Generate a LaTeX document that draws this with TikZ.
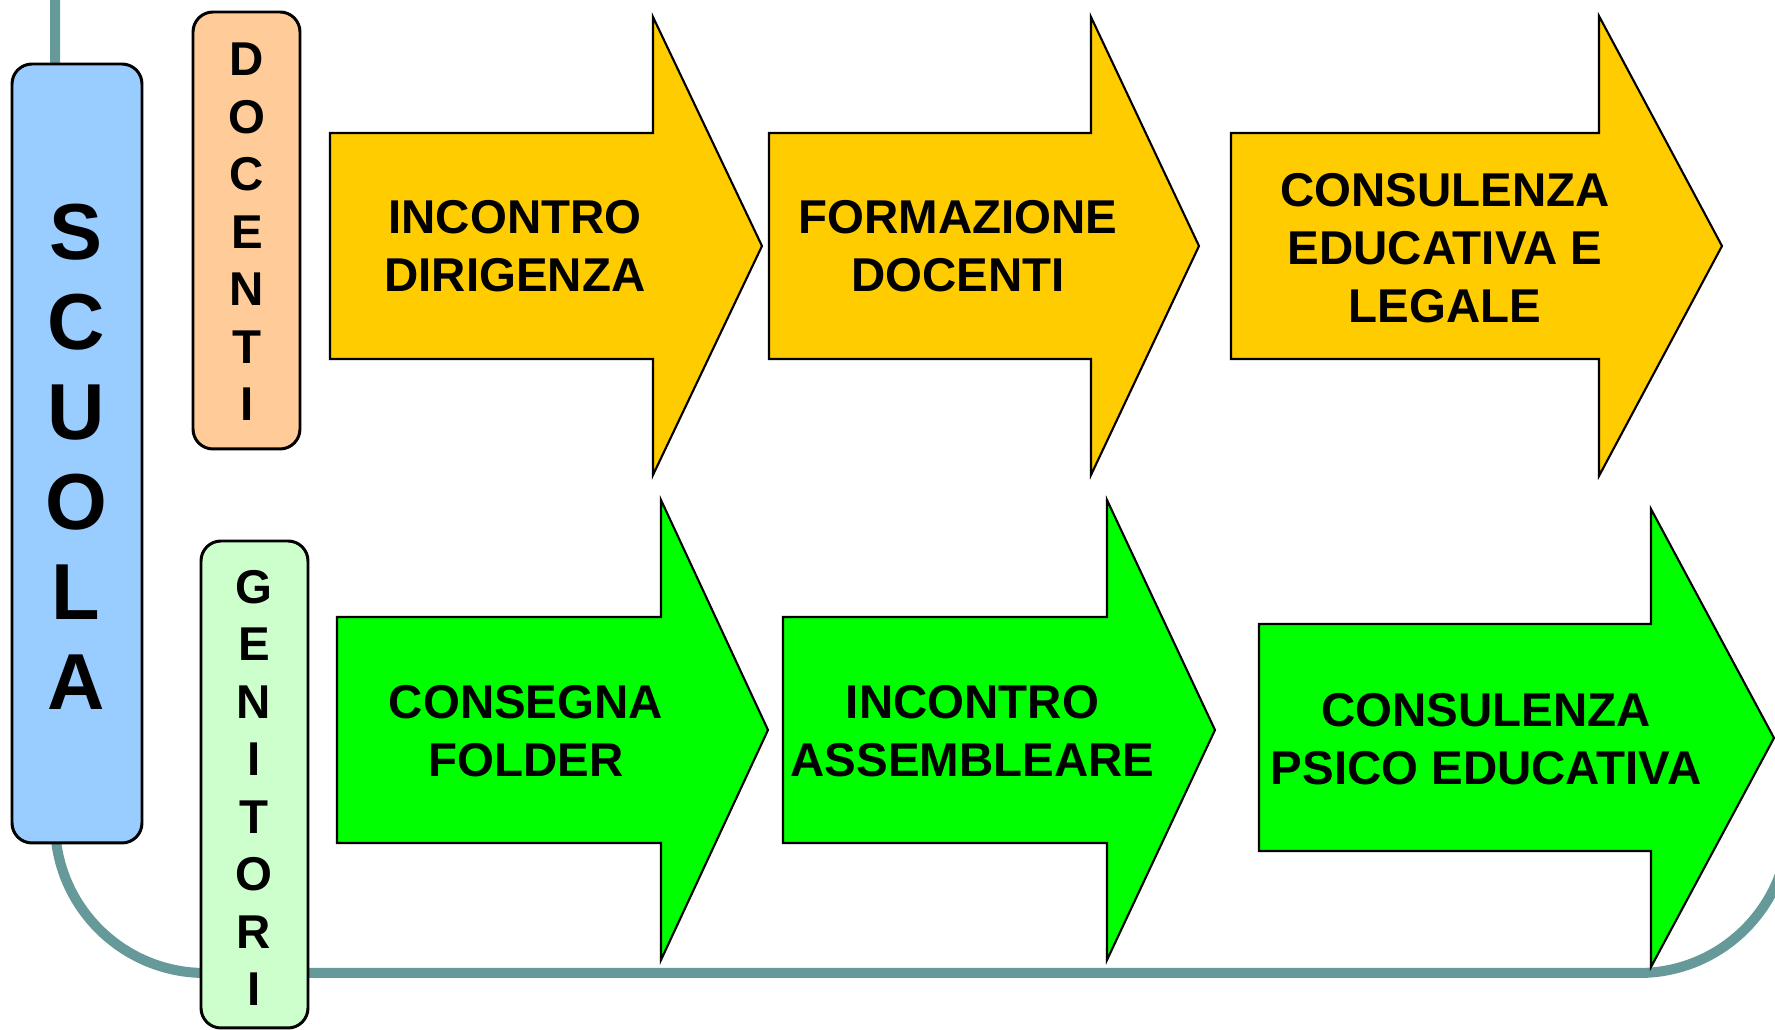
\documentclass[tikz,border=0pt]{standalone}
\usepackage{fontspec}
\setmainfont{Liberation Sans}
\definecolor{spinecol}{HTML}{669999}
\definecolor{scuolablue}{HTML}{99CCFF}
\definecolor{docorange}{HTML}{FFCC99}
\definecolor{genigreen}{HTML}{CCFFCC}
\definecolor{arryellow}{HTML}{FFCC00}
\definecolor{arrgreen}{HTML}{00FF00}
\begin{document}
\begin{tikzpicture}[x=0.1mm,y=-0.1mm,
  spine/.style={draw=spinecol, line width=1mm, rounded corners=15mm},
  sidebox/.style={draw=black, line width=0.85pt, rounded corners=2mm, inner sep=0pt},
  arrowshape/.style={draw=black, line width=0.6pt, line join=miter},
  lbl/.style={font=\bfseries\fontsize{13.5}{16.45}\selectfont, align=center, inner sep=0pt, text=black},
  vlet/.style={font=\bfseries\fontsize{13.5}{16.45}\selectfont, inner sep=0pt, text height=9.67pt, text depth=0pt},
  blet/.style={font=\bfseries\fontsize{22.6}{27}\selectfont, inner sep=0pt, text height=16.18pt, text depth=0pt}]
\useasboundingbox (0,0) rectangle (1775,1030);
% background spine
\coordinate (spinestart) at (55,-20);
\coordinate (spinecornerL) at (55,973);
\coordinate (spinecornerR) at (1789,973);
\coordinate (spineend) at (1789,500);
\begin{scope}
\clip (0,0) rectangle (1775,1030);
\draw[spine] (spinestart) -- (spinecornerL) -- (spinecornerR) -- (spineend);
\end{scope}
% side boxes
\node[sidebox, fill=scuolablue, minimum width=13mm, minimum height=77.9mm] (scuola) at (77,453.5) {};
\node[sidebox, fill=docorange, minimum width=10.7mm, minimum height=43.7mm] (docenti) at (246.5,230.5) {};
\node[sidebox, fill=genigreen, minimum width=10.7mm, minimum height=48.7mm] (genitori) at (254.5,784.5) {};
% vertical letters
\foreach \l [count=\i] in {S,C,U,O,L,A}
  \node[blet] (sc\i) at (76,{231+90*(\i-1)}) {\l};
\foreach \l [count=\i] in {D,O,C,E,N,T,I}
  \node[vlet] (dc\i) at (247,{59+57.5*(\i-1)}) {\l};
\foreach \l [count=\i] in {G,E,N,I,T,O,R,I}
  \node[vlet] (gn\i) at (254,{586.5+57.5*(\i-1)}) {\l};
% yellow arrows
\draw[arrowshape, fill=arryellow] (330,133) -- (653,133) -- (653,17) -- (762,246) -- (653,475) -- (653,359) -- (330,359) -- cycle;
\draw[arrowshape, fill=arryellow] (769,133) -- (1091,133) -- (1091,17) -- (1199,246) -- (1091,475) -- (1091,359) -- (769,359) -- cycle;
\draw[arrowshape, fill=arryellow] (1231,133) -- (1599,133) -- (1599,16) -- (1722,246) -- (1599,476) -- (1599,359) -- (1231,359) -- cycle;
% green arrows
\draw[arrowshape, fill=arrgreen] (337,617) -- (661,617) -- (661,500) -- (768,730) -- (661,960) -- (661,843) -- (337,843) -- cycle;
\draw[arrowshape, fill=arrgreen] (783,617) -- (1107,617) -- (1107,500) -- (1215,730) -- (1107,960) -- (1107,843) -- (783,843) -- cycle;
\draw[arrowshape, fill=arrgreen] (1259,624) -- (1651,624) -- (1651,509) -- (1774,738) -- (1651,967) -- (1651,851) -- (1259,851) -- cycle;
% labels
\node[lbl] (a1) at (515,246.5) {INCONTRO\\DIRIGENZA};
\node[lbl] (a2) at (958,246.5) {FORMAZIONE\\DOCENTI};
\node[lbl] (a3) at (1445,248) {CONSULENZA\\EDUCATIVA E\\LEGALE};
\node[lbl] (a4) at (526,731) {CONSEGNA\\FOLDER};
\node[lbl] (a5) at (972.5,731) {INCONTRO\\ASSEMBLEARE};
\node[lbl] (a6) at (1486,739.5) {CONSULENZA\\PSICO EDUCATIVA};
\end{tikzpicture}
\end{document}
